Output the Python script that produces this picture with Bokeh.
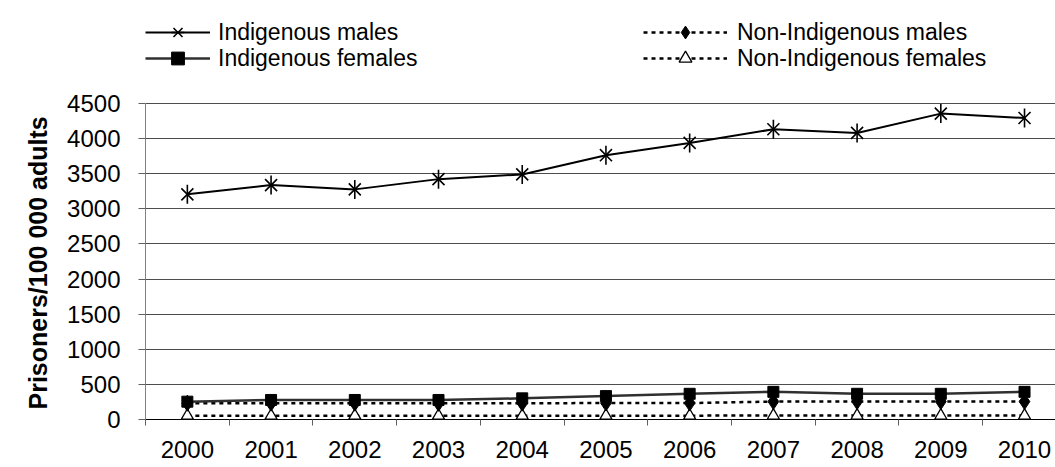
from bokeh.plotting import figure
from bokeh.models import Range1d, FixedTicker, Legend, LegendItem, ColumnDataSource, Title
from bokeh.embed import file_html
from bokeh.resources import INLINE
import math

years = [2000, 2001, 2002, 2003, 2004, 2005, 2006, 2007, 2008, 2009, 2010]
indigenous_males = [3206, 3338, 3277, 3423, 3490, 3764, 3939, 4133, 4081, 4356, 4294]
indigenous_females = [254, 278, 278, 278, 301, 333, 366, 394, 366, 366, 394]
non_indigenous_males = [232, 232, 232, 230, 232, 234, 234, 255, 255, 255, 255]
non_indigenous_females = [55, 55, 55, 55, 55, 55, 55, 56, 56, 56, 56]
y_ticks = [0, 500, 1000, 1500, 2000, 2500, 3000, 3500, 4000, 4500]
y_title = "Prisoners/100 000 adults"

FONT = "Liberation Sans"

# layout (pixels): frame from top of figure; value 0 at ZERO_PX, 4500 at TOP_PX
W, H = 1055, 467
ZERO_PX, TOP_PX = 419, 103
y_max_view = y_ticks[-1] * ZERO_PX / (ZERO_PX - TOP_PX)

p = figure(width=W, height=H, output_backend="svg", toolbar_location=None,
           x_range=Range1d(years[0] - 0.5, years[-1] + 0.37),
           y_range=Range1d(0, y_max_view),
           min_border_left=145, min_border_top=0, min_border_bottom=H - ZERO_PX,
           min_border_right=0)
p.outline_line_color = None
p.background_fill_color = "white"
p.border_fill_color = "white"

# axes
p.xaxis.ticker = FixedTicker(ticks=years, minor_ticks=[y - 0.5 for y in years])
p.xaxis.major_tick_out = 0
p.xaxis.major_tick_in = 0
p.xaxis.minor_tick_out = 6
p.xaxis.minor_tick_in = 0
p.xaxis.minor_tick_line_color = "#606060"
p.xaxis.axis_line_color = "black"
p.xaxis.major_label_standoff = 15
p.xaxis.major_label_text_font = FONT
p.xaxis.major_label_text_font_size = "24px"
p.xaxis.major_label_text_color = "black"

p.yaxis.ticker = FixedTicker(ticks=y_ticks)
p.yaxis.bounds = (y_ticks[0], y_ticks[-1])
p.yaxis.major_tick_out = 7
p.yaxis.major_tick_in = 0
p.yaxis.minor_tick_line_color = None
p.yaxis.axis_line_color = "#808080"
p.yaxis.major_tick_line_color = "#606060"
p.yaxis.major_label_standoff = 18
p.yaxis.major_label_text_font = FONT
p.yaxis.major_label_text_font_size = "24px"
p.yaxis.major_label_text_color = "black"

# y-axis title, starting just above the zero line and reading upward
p.add_layout(Title(text=y_title, align="left", vertical_align="top", text_font=FONT,
                   text_font_style="bold", text_font_size="25px", text_color="black",
                   offset=10, standoff=22), "left")

p.xgrid.grid_line_color = None
p.ygrid.grid_line_color = "#4d4d4d"
p.ygrid.grid_line_width = 1

src = ColumnDataSource(dict(x=years, im=indigenous_males, if_=indigenous_females,
                            nm=non_indigenous_males, nf=non_indigenous_females))

# Non-Indigenous females
nf_line = p.line("x", "nf", source=src, line_color="black", line_width=2.5, line_dash="4 4")
nf_mark = p.scatter("x", "nf", source=src, marker="triangle", size=12,
                    fill_color="white", line_color="black", line_width=1.3)
# Non-Indigenous males
nm_line = p.line("x", "nm", source=src, line_color="black", line_width=2.5, line_dash="4 4")
nm_mark = p.scatter("x", "nm", source=src, marker="diamond", size=16,
                    fill_color="black", line_color="black")
# Indigenous females
if_line = p.line("x", "if_", source=src, line_color="#303030", line_width=2.5)
if_mark = p.scatter("x", "if_", source=src, marker="square", size=11,
                    fill_color="black", line_color="black")
# Indigenous males
im_line = p.line("x", "im", source=src, line_color="black", line_width=2)
im_x = p.scatter("x", "im", source=src, marker="x", size=17, line_color="black", line_width=1.6)
im_v = p.scatter("x", "im", source=src, marker="dash", size=19, angle=math.pi / 2,
                 line_color="black", line_width=1.6)

common = dict(glyph_height=32, label_height=20, spacing=0,
              padding=0, margin=0, border_line_color=None, background_fill_alpha=0,
              label_text_font=FONT, label_text_font_size="23px", label_text_color="black")
left_col = dict(glyph_width=65, label_standoff=8)
right_col = dict(glyph_width=84, label_standoff=10)
ROW1_Y, ROW2_Y = ZERO_PX - 48, ZERO_PX - 74
LEFT_X, RIGHT_X = 0, 498

legends = [
    Legend(items=[LegendItem(label="Indigenous males", renderers=[im_line, im_x, im_v])],
           location=(LEFT_X, ROW1_Y), **left_col, **common),
    Legend(items=[LegendItem(label="Indigenous females", renderers=[if_line, if_mark])],
           location=(LEFT_X, ROW2_Y), **left_col, **common),
    Legend(items=[LegendItem(label="Non-Indigenous males", renderers=[nm_line, nm_mark])],
           location=(RIGHT_X, ROW1_Y), **right_col, **common),
    Legend(items=[LegendItem(label="Non-Indigenous females", renderers=[nf_line, nf_mark])],
           location=(RIGHT_X, ROW2_Y), **right_col, **common),
]
for leg in legends:
    p.add_layout(leg)

open("out.html", "w").write(file_html(p, INLINE))
